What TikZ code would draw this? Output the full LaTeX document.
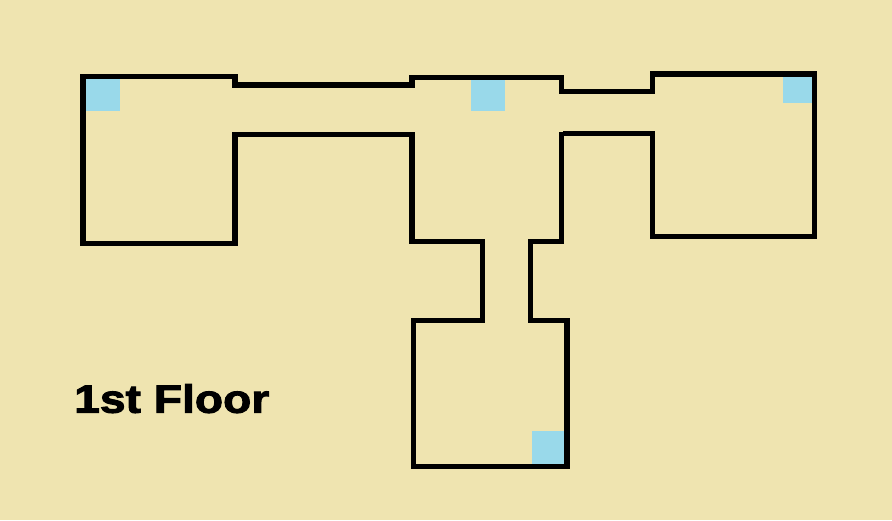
\documentclass[tikz,border=0pt]{standalone}
\usepackage{fontspec}
\newfontfamily\floorfont[FakeStretch=1.17,FakeBold=2.5]{Liberation Sans Bold}
\definecolor{floorbg}{HTML}{EFE4B0}
\definecolor{stairblue}{HTML}{99D9EA}
\tikzset{
  wall/.style={draw=black,line width=5.2pt,line join=miter,line cap=butt},
  stair/.style={fill=stairblue,draw=none},
  floorlabel/.style={font=\floorfont\fontsize{39.5pt}{39.5pt}\selectfont,inner sep=0pt,anchor=base west,text=black}
}
\begin{document}
\begin{tikzpicture}[x=1pt,y=-1pt]
\useasboundingbox (0,0) rectangle (892,520);
\fill[floorbg] (0,0) rectangle (892,520);
% stairs
\fill[stair] (86,79) rectangle (120,111);
\fill[stair] (471,80) rectangle (505,111);
\fill[stair] (783,76) rectangle (812,103);
\fill[stair] (532,431) rectangle (565,464);
% outline
\draw[wall] (80.4,76.5) -- (235,76.5) -- (235,85) -- (412,85) -- (412,77.5)
  -- (561.5,77.5) -- (561.5,91.8) -- (652.7,91.8) -- (652.7,74) -- (814.3,74)
  -- (814.3,236.7) -- (652.7,236.7) -- (652.7,133.5) -- (563,133.5);
\draw[wall] (561.5,132) -- (561.5,241.3) -- (530.7,241.3) -- (530.7,320.5)
  -- (567,320.5) -- (567,466.5) -- (413.5,466.5) -- (413.5,320.5)
  -- (482.5,320.5) -- (482.5,241.5) -- (412,241.5) -- (412,134.5)
  -- (235,134.5) -- (235,243.3) -- (83,243.3) -- (83,74);
\node[floorlabel] (label) at (74,412.7) {1st Floor};
\end{tikzpicture}
\end{document}
